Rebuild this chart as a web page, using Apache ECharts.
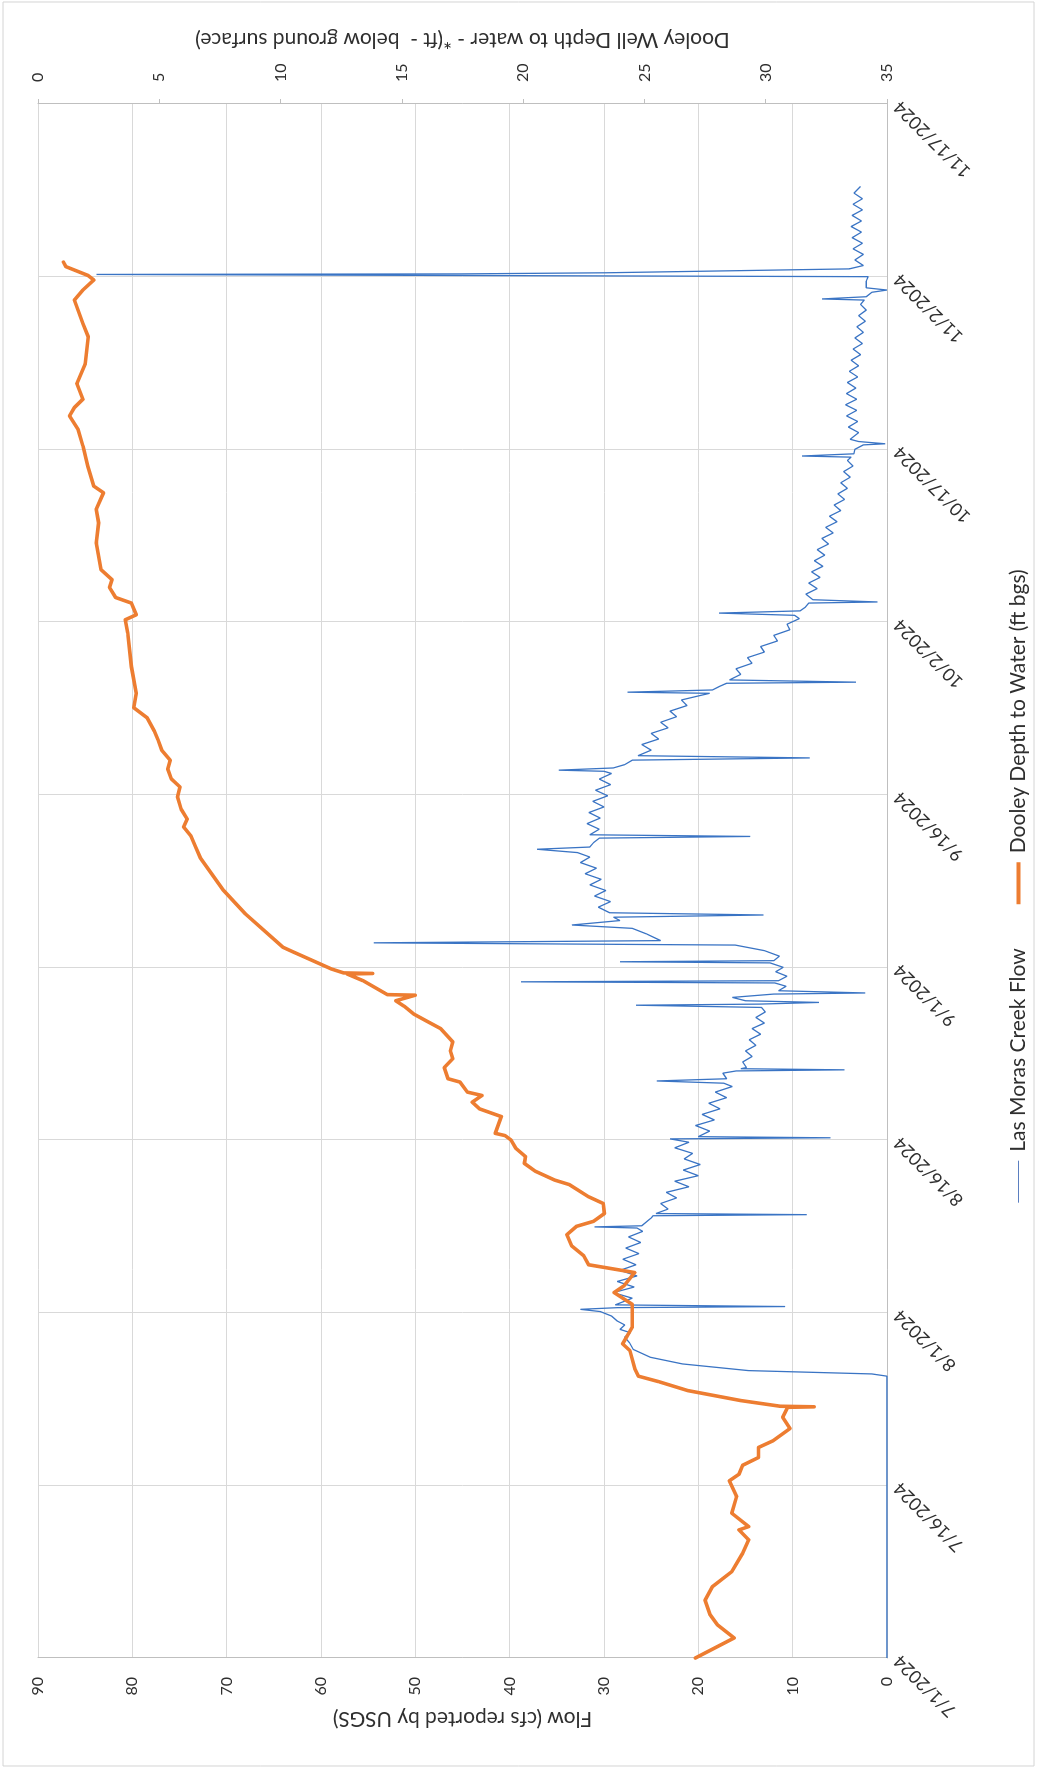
<!DOCTYPE html>
<html>
<head>
<meta charset="utf-8">
<script src="https://cdn.jsdelivr.net/npm/echarts@6/dist/echarts.min.js"></script>
<style>
html,body{margin:0;padding:0;background:#fff;overflow:hidden;width:1042px;height:1772px;}
#wrap{position:absolute;left:0;top:0;width:1772px;height:1042px;transform-origin:0 0;transform:translate(0px,1772px) rotate(-90deg);background:#fff;}
</style>
</head>
<body>
<div id="wrap"></div>
<script>
// ---- data (day offset from 7/1/2024) ----
const startDate = [2024, 6, 1];
const dateTickInterval = 15.5;
const dateMax = 139.5;
const flowTicks = {min: 0, max: 90, interval: 10};
const depthTicks = {min: 0, max: 35, interval: 5};
const seriesNames = ['Las Moras Creek Flow', 'Dooley Depth to Water (ft bgs)'];
const flowAxisTitle = 'Flow (cfs reported by USGS)';
const depthAxisTitle = 'Dooley Well Depth to water - *(ft -  below ground surface)';

// Las Moras Creek Flow [day, cfs]
const creekFlow = [
[0,0],[25.3,0],[25.5,1.6],[25.8,14.7],[26.4,21.7],[27.0,25.1],[27.7,26.9],[28.3,27.3],[28.8,27.8],[29.2,27.2],[29.5,28.3],[29.9,27.8],[30.25,28.6],[30.7,29.2],[31.1,30.4],[31.3,32.5],[31.45,28.6],[31.55,10.8],[31.7,28.8],
[32.3,27.0],[32.8,29.0],[33.3,26.8],[33.8,28.6],[34.3,26.5],[34.8,28.3],[35.3,26.6],[35.8,28.0],[36.3,26.3],[36.8,27.7],[37.3,26.1],[37.8,27.4],[38.3,25.9],[38.6,26.5],[38.7,31.0],[38.8,26.0],[39.5,25.0],[39.7,24.8],[39.8,8.5],[39.9,24.5],
[40.3,23.2],[40.8,24.0],[41.3,22.3],[41.8,23.4],[42.3,21.0],[42.8,22.5],[43.3,20.0],[43.8,21.6],[44.3,19.8],[44.8,21.5],[45.3,20.6],[45.8,22.5],[46.3,21.0],[46.6,23.0],[46.7,6.0],[46.8,20.0],
[47.3,18.8],[47.8,20.3],[48.3,18.3],[48.8,19.6],[49.3,17.7],[49.8,18.9],[50.3,17.0],[50.8,18.2],[51.3,16.4],[51.6,17.3],[51.8,24.4],[52.0,17.0],[52.5,17.4],[52.7,16.0],[52.8,4.5],[52.9,15.5],[53.0,14.9],
[53.5,15.3],[54.0,14.3],[54.5,15.0],[55.0,13.9],[55.5,14.6],[56.0,13.4],[56.5,14.3],[57.0,13.0],[57.5,13.9],[58.0,12.9],[58.4,13.3],[58.6,26.6],[58.7,13.5],[58.85,7.2],[59.0,15.0],[59.3,16.4],[59.6,12.0],[59.7,2.3],[59.9,11.5],
[60.3,10.7],[60.6,11.9],[60.7,38.8],[60.8,11.5],[61.2,10.6],[61.6,11.8],[62.0,11.0],[62.4,12.4],[62.5,28.3],[62.6,12.0],[63.0,11.4],[63.5,13.0],[64.0,16.1],[64.2,54.4],[64.4,24.0],[65.0,25.5],[65.5,27.0],[65.8,33.4],[66.2,28.3],[66.5,29.0],[66.7,13.1],[66.9,29.4],
[67.4,30.6],[67.9,29.3],[68.4,31.0],[68.9,29.8],[69.4,31.5],[69.9,30.3],[70.4,32.0],[70.9,30.8],[71.4,32.5],[71.9,31.5],[72.3,32.8],[72.6,37.1],[72.8,31.5],[73.2,31.1],[73.6,30.5],[73.75,14.5],[73.9,31.5],
[74.4,30.5],[74.9,31.8],[75.4,30.4],[75.9,31.6],[76.4,30.0],[76.9,31.2],[77.4,29.6],[77.9,30.9],[78.4,29.3],[78.9,30.5],[79.4,29.2],[79.6,30.0],[79.7,34.8],[79.9,29.0],[80.2,27.8],[80.6,27.0],[80.8,8.2],[81.0,26.4],
[81.5,25.0],[82.0,26.0],[82.5,24.2],[83.0,25.0],[83.5,23.2],[84.0,24.0],[84.5,22.3],[85.0,23.0],[85.5,21.2],[86.0,21.8],[86.4,19.8],[86.6,18.8],[86.7,27.5],[86.9,18.5],[87.2,17.8],[87.5,17.0],[87.6,3.3],[87.8,16.7],
[88.3,15.5],[88.8,16.0],[89.3,14.3],[89.8,14.8],[90.3,13.0],[90.8,13.4],[91.3,11.6],[91.8,12.0],[92.3,10.3],[92.8,10.6],[93.3,9.3],[93.6,9.8],[93.8,17.8],[94.0,9.2],[94.3,8.7],[94.7,8.3],[94.8,1.0],[95.0,7.85],
[95.5,8.6],[96.0,7.4],[96.5,8.3],[97.0,7.1],[97.5,8.0],[98.0,6.8],[98.5,7.7],[99.0,6.6],[99.5,7.4],[100.0,6.2],[100.5,6.9],[101.0,5.7],[101.5,6.5],[102.0,5.3],[102.5,6.1],[103.0,4.9],[103.5,5.6],[104.0,4.5],[104.5,5.2],[105.0,4.2],[105.5,4.9],[106.0,3.9],[106.5,4.6],[107.0,3.6],[107.5,4.2],[107.8,3.8],[107.9,9.0],[108.1,3.5],[108.5,3.4],[108.9,2.5],[109.0,0.2],[109.2,3.0],[109.4,3.9],
[110.0,3.0],[110.5,4.1],[111.0,3.1],[111.5,4.3],[112.0,3.2],[112.5,4.4],[113.0,3.2],[113.5,4.3],[114.0,3.3],[114.5,4.2],[115.0,3.1],[115.5,4.0],[116.0,3.0],[116.5,3.8],[117.0,2.8],[117.5,3.6],[118.0,2.6],[118.5,3.4],[119.0,2.5],[119.5,3.2],[120.0,2.3],[120.5,3.0],[121.0,2.2],[121.5,2.8],[121.9,2.4],[122.0,6.9],[122.2,2.2],[122.6,1.6],[122.8,0.0],[123.0,2.2],[123.6,2.2],[124.0,2.0],[124.2,83.8],[124.25,45.0],[124.35,29.7],[124.7,4.0],
[125.0,2.5],[125.5,3.4],[126.0,2.5],[126.5,3.6],[127.0,2.6],[127.5,3.7],[128.0,2.7],[128.5,3.8],[129.0,2.7],[129.5,3.7],[130.0,2.6],[130.5,3.6],[131.0,2.6],[131.5,3.5],[132.1,2.8]
];

// Dooley Depth to Water [day, ft bgs]
const wellDepth = [
[0,27.1],[1.8,28.7],[3.0,28.0],[3.9,27.7],[5.2,27.5],[6.4,27.8],[7.75,28.6],[9.4,29.05],[10.6,29.3],[11.5,28.9],[11.8,29.3],[13.0,28.6],[14.5,28.8],[15.9,28.5],[16.5,28.9],[17.3,29.05],[18.0,29.7],[18.9,29.7],[19.5,30.3],[20.6,31.0],[21.6,30.7],[22.5,30.9],[22.55,32.0],[22.6,30.6],
[23.1,29.0],[24.0,26.8],[24.8,25.6],[25.3,24.75],[26.0,24.6],[27.6,24.4],[28.2,24.1],[29.7,24.5],[30.7,24.5],[31.75,24.5],[32.8,23.75],[33.4,24.15],[34.6,24.6],[35.3,22.7],[36.1,22.5],[37.0,22.0],[38.0,21.8],[38.75,22.2],[39.2,22.9],[39.9,23.35],[40.8,23.3],[41.4,22.7],[42.5,21.9],[42.9,21.3],[43.7,20.5],[44.4,20.05],[45.0,20.1],[45.75,19.7],[46.5,19.5],[46.9,19.25],[47.1,18.85],[48.6,19.1],[49.3,18.2],[49.9,17.9],[50.5,18.3],[50.8,17.7],[51.7,17.4],[52.0,16.9],[53.0,16.75],[53.8,17.1],[54.5,17.0],[55.3,17.1],[56.5,16.6],[57.2,16.0],[57.8,15.5],[58.5,15.1],[59.0,14.75],[59.5,15.55],[59.55,14.4],[60.8,13.4],[61.4,12.75],[61.45,13.8],[61.5,12.6],[61.85,12.1],[63.35,10.55],[63.8,10.1],[66.8,8.55],[68.9,7.65],[71.8,6.7],
[72.8,6.5],[73.8,6.3],[74.6,6.0],[75.3,6.15],[76.2,5.9],[77.3,5.75],[78.2,5.85],[78.9,5.5],[79.8,5.35],[80.6,5.45],[81.5,5.1],[82.4,4.95],[83.2,4.8],[84.4,4.5],[85.3,3.95],[86.6,4.05],[89.0,3.85],[92.0,3.7],[93.2,3.6],[93.65,4.05],[94.7,3.85],[95.2,3.2],[96.1,2.95],[96.8,3.05],[97.7,2.6],[100.1,2.4],[101.9,2.5],[103.1,2.4],[104.6,2.7],[105.2,2.3],[107.0,2.05],[108.8,1.85],[110.3,1.65],[111.5,1.3],[112.25,1.5],[113.0,1.85],[114.4,1.6],[116.2,1.95],[118.6,2.07],[119.8,1.85],[121.9,1.5],[122.8,1.85],[123.7,2.3],[124.1,2.07],[124.9,1.15],[125.3,1.05]
];

function dayLabel(v) {
  const d = new Date(Date.UTC(startDate[0], startDate[1], startDate[2]) + Math.floor(v + 1e-6) * 86400000);
  return (d.getUTCMonth() + 1) + '/' + d.getUTCDate() + '/' + d.getUTCFullYear();
}

const FONT = 'Lato, "Open Sans", sans-serif';
const TXT = '#2f2f2f';
const GRID = '#d9d9d9';
const BLUE = '#3a74c4';
const ORANGE = '#ED7D31';

const chart = echarts.init(document.getElementById('wrap'), null, {renderer: 'canvas', width: 1772, height: 1042});
chart.setOption({
  animation: false,
  backgroundColor: '#ffffff',
  graphic: [{
    type: 'rect', silent: true, z: -1,
    shape: {x: 6, y: 3, width: 1764, height: 1031},
    style: {fill: null, stroke: '#d4d4d4', lineWidth: 1}
  }],
  grid: {left: 114, right: 104, top: 38, bottom: 155, containLabel: false},
  legend: {
    data: [
      {name: seriesNames[0], icon: 'path://M0,0H42V1.2H0Z', itemStyle: {color: '#5b7fc0'}},
      {name: seriesNames[1], icon: 'path://M0,0H42V4H0Z', itemStyle: {color: ORANGE}}
    ],
    left: 'center', top: 1003, symbolKeepAspect: true,
    itemWidth: 42, itemHeight: 4, itemGap: 44,
    textStyle: {fontFamily: FONT, fontSize: 21, color: TXT, padding: [0, 0, 0, 4]}
  },
  xAxis: {
    type: 'value', min: 0, max: dateMax, interval: dateTickInterval,
    axisLine: {show: true, lineStyle: {color: '#bfbfbf', width: 1}},
    axisTick: {show: false},
    splitLine: {show: true, lineStyle: {color: GRID, width: 1}},
    axisLabel: {rotate: 45, margin: 10, fontFamily: FONT, fontSize: 18, color: TXT, formatter: dayLabel}
  },
  yAxis: [{
    type: 'value', position: 'left',
    min: flowTicks.min, max: flowTicks.max, interval: flowTicks.interval,
    name: flowAxisTitle, nameLocation: 'middle', nameRotate: 90, nameGap: 50,
    nameTextStyle: {fontFamily: FONT, fontSize: 21, color: TXT},
    axisLine: {show: true, lineStyle: {color: '#bfbfbf'}},
    axisTick: {show: false},
    splitLine: {show: true, lineStyle: {color: GRID, width: 1}},
    axisLabel: {margin: 19, fontFamily: FONT, fontSize: 16, color: TXT}
  }, {
    type: 'value', position: 'right', inverse: true,
    min: depthTicks.min, max: depthTicks.max, interval: depthTicks.interval,
    name: depthAxisTitle, nameLocation: 'middle', nameRotate: 90, nameGap: 54,
    nameTextStyle: {fontFamily: FONT, fontSize: 21, color: TXT},
    axisLine: {show: true, lineStyle: {color: '#bfbfbf'}},
    axisTick: {show: true, length: 5, lineStyle: {color: '#bfbfbf'}},
    splitLine: {show: false},
    axisLabel: {margin: 22, fontFamily: FONT, fontSize: 16, color: TXT}
  }],
  series: [{
    name: seriesNames[0], type: 'line', yAxisIndex: 0,
    data: creekFlow, symbol: 'none', showSymbol: false,
    lineStyle: {color: BLUE, width: 1.3},
    itemStyle: {color: BLUE}, z: 2
  }, {
    name: seriesNames[1], type: 'line', yAxisIndex: 1,
    data: wellDepth, symbol: 'none', showSymbol: false,
    lineStyle: {color: ORANGE, width: 3.6, join: 'round', cap: 'round'},
    itemStyle: {color: ORANGE}, z: 3
  }]
});
</script>
</body>
</html>
